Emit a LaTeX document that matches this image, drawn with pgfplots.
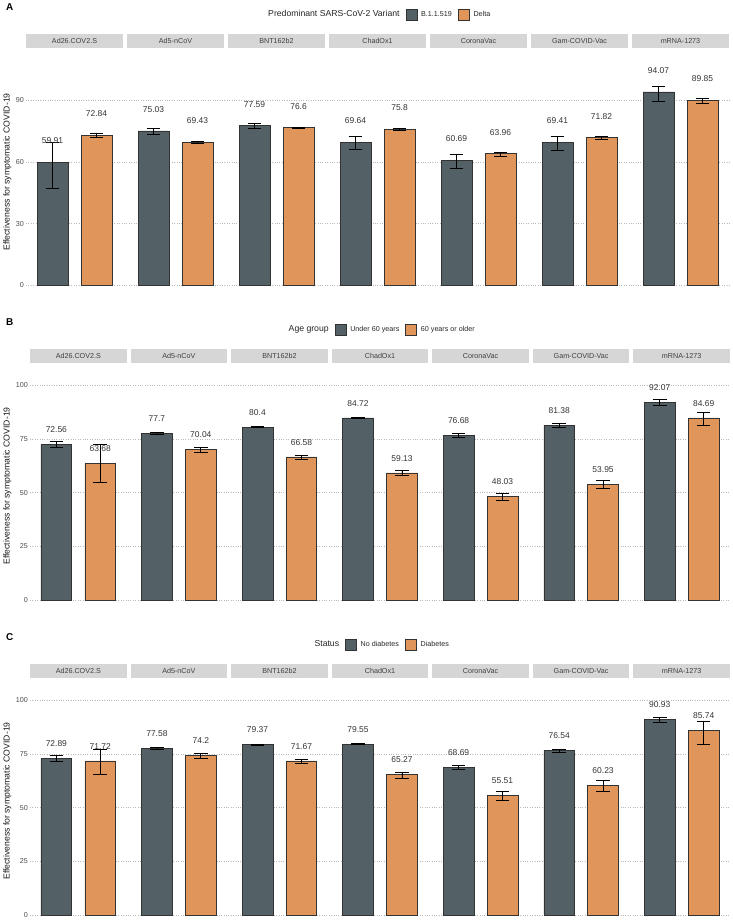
\documentclass[border=0pt]{standalone}
\usepackage{pgfplots}
\pgfplotsset{compat=1.18}
\usepackage{pgfplotstable}
\usepackage{fontspec}
\setmainfont{Liberation Sans}
\definecolor{darkbar}{RGB}{83,97,102}
\definecolor{orangebar}{RGB}{224,149,90}
\definecolor{stripgray}{RGB}{214,214,214}
\definecolor{gridgray}{RGB}{185,185,185}
\newcommand{\fsz}[1]{\fontsize{#1}{#1}\selectfont}

% Panel A: Predominant variant
\pgfplotstableread{
i v lo hi
0 59.91 47.0 69.4
1 75.03 73.5 76.2
2 77.59 76.4 78.6
3 69.64 66.3 72.3
4 60.69 56.9 63.7
5 69.41 65.5 72.6
6 94.07 89.3 96.6
}\Adark
\pgfplotstableread{
i v lo hi
0 72.84 71.7 74.1
1 69.43 68.9 69.8
2 76.6 76.2 76.9
3 75.8 75.3 76.2
4 63.96 62.9 64.5
5 71.82 70.9 72.5
6 89.85 88.4 90.8
}\Aorange
% Panel B: Age group
\pgfplotstableread{
i v lo hi
0 72.56 71.2 73.8
1 77.7 77.3 78.0
2 80.4 80.1 80.7
3 84.72 84.4 85.0
4 76.68 75.7 77.5
5 81.38 80.5 82.2
6 92.07 90.5 93.3
}\Bdark
\pgfplotstableread{
i v lo hi
0 63.68 54.6 72.4
1 70.04 68.7 71.2
2 66.58 65.6 67.4
3 59.13 57.8 60.3
4 48.03 46.4 49.6
5 53.95 51.8 55.7
6 84.69 81.1 87.4
}\Borange
% Panel C: Diabetes status
\pgfplotstableread{
i v lo hi
0 72.89 71.5 74.1
1 77.58 77.3 77.9
2 79.37 79.1 79.6
3 79.55 79.3 79.8
4 68.69 67.8 69.5
5 76.54 75.5 77.2
6 90.93 89.5 91.9
}\Cdark
\pgfplotstableread{
i v lo hi
0 71.72 65.4 77.2
1 74.2 73.0 75.0
2 71.67 70.4 72.4
3 65.27 63.6 66.5
4 55.51 53.3 57.4
5 60.23 57.4 62.5
6 85.74 79.4 90.1
}\Corange

\tikzset{striplab/.style={font=\fsz{7.2}, text=black!75, anchor=center, inner sep=0pt}}
\newcommand{\strips}[1]{%
 \fill[stripgray] (axis cs:0.4,#1) rectangle ([yshift=14bp]axis cs:2.6,#1);
 \fill[stripgray] (axis cs:2.69,#1) rectangle ([yshift=14bp]axis cs:4.89,#1);
 \fill[stripgray] (axis cs:4.98,#1) rectangle ([yshift=14bp]axis cs:7.18,#1);
 \fill[stripgray] (axis cs:7.27,#1) rectangle ([yshift=14bp]axis cs:9.47,#1);
 \fill[stripgray] (axis cs:9.56,#1) rectangle ([yshift=14bp]axis cs:11.76,#1);
 \fill[stripgray] (axis cs:11.85,#1) rectangle ([yshift=14bp]axis cs:14.05,#1);
 \fill[stripgray] (axis cs:14.14,#1) rectangle ([yshift=14bp]axis cs:16.34,#1);
 \node[striplab] at ([yshift=7bp]axis cs:1.5,#1) {Ad26.COV2.S};
 \node[striplab] at ([yshift=7bp]axis cs:3.79,#1) {Ad5-nCoV};
 \node[striplab] at ([yshift=7bp]axis cs:6.08,#1) {BNT162b2};
 \node[striplab] at ([yshift=7bp]axis cs:8.37,#1) {ChadOx1};
 \node[striplab] at ([yshift=7bp]axis cs:10.66,#1) {CoronaVac};
 \node[striplab] at ([yshift=7bp]axis cs:12.95,#1) {Gam-COVID-Vac};
 \node[striplab] at ([yshift=7bp]axis cs:15.24,#1) {mRNA-1273};
}

\pgfplotsset{
 facet/.style={
   scale only axis, anchor=south west,
   xmin=0.4, xmax=16.34, ymin=-3,
   axis line style={draw=none}, tick style={draw=none}, major tick length=0pt,
   xtick=\empty,
   yticklabel style={anchor=east, inner sep=0pt, xshift=-2bp, font=\fsz{7.2}, text=black!70},
   /pgf/number format/assume math mode=true,
   ymajorgrids, grid style={dotted, gridgray, line width=0.6bp},
   clip=false,
   point meta=explicit symbolic,
   nodes near coords,
   nodes near coords style={font=\fsz{8.5}, text=black!80, anchor=center},
   legend columns=-1,
   legend style={draw=none, fill=none, at={(0.5,1)}, anchor=center, yshift=33.5bp,
     font=\fsz{7.2}, text=black!85, inner sep=0pt, outer sep=0pt,
     nodes={inner sep=0.5bp},
     /tikz/every odd column/.append style={column sep=3.5bp},
     /tikz/every even column/.append style={column sep=5.5bp}},
   legend image code/.code={\draw[##1, draw=black!80, line width=0.6bp] (0bp,-5.5bp) rectangle (11bp,5.5bp);},
 },
 barbase/.style={ybar, bar width=0.7, bar shift=0pt, draw=black!80, line width=0.6bp, forget plot,
   error bars/.cd, y dir=both, y explicit,
   error bar style={black, line width=0.7bp},
   error mark options={rotate=90, black, line width=0.7bp, mark size=6.8bp}},
}
\newcommand{\dataplots}[2]{%
 \addplot[fill=darkbar, barbase] table[x expr=\thisrow{i}*2.29+1, y=v, meta=v,
   y error plus expr=\thisrow{hi}-\thisrow{v}, y error minus expr=\thisrow{v}-\thisrow{lo}] {#1};
 \addplot[fill=orangebar, barbase] table[x expr=\thisrow{i}*2.29+2, y=v, meta=v,
   y error plus expr=\thisrow{hi}-\thisrow{v}, y error minus expr=\thisrow{v}-\thisrow{lo}] {#2};
}

\begin{document}
\begin{tikzpicture}
\useasboundingbox (0,0) rectangle (733bp,-922bp);

% ---------- Panel A ----------
\node[anchor=base west, font=\fsz{10}\bfseries] at (2.5bp,-10.5bp) {A};
\node[rotate=90, font=\fsz{8.7}, text=black!90] at (7.5bp,-172bp) {Effectiveness for symptomatic COVID-19};
\begin{axis}[facet, at={(26bp,-291.4bp)}, width=703bp, height=243.4bp, ymax=115.4,
  ytick={0,30,60,90}, nodes near coords style={yshift=21.5bp}]
 \strips{115.4}
 \dataplots{\Adark}{\Aorange}
 \addlegendimage{empty legend}\addlegendentry{\fsz{8.7}Predominant SARS-CoV-2 Variant\hspace{3bp}}
 \addlegendimage{fill=darkbar}\addlegendentry{B.1.1.519}
 \addlegendimage{fill=orangebar}\addlegendentry{Delta}
\end{axis}

% ---------- Panel B ----------
\node[anchor=base west, font=\fsz{10}\bfseries] at (2.5bp,-325.5bp) {B};
\node[rotate=90, font=\fsz{8.7}, text=black!90] at (7.5bp,-486bp) {Effectiveness for symptomatic COVID-19};
\begin{axis}[facet, at={(30bp,-606.5bp)}, width=700bp, height=243.5bp, ymax=110.26,
  ytick={0,25,50,75,100}, nodes near coords style={yshift=14.8bp}]
 \strips{110.26}
 \dataplots{\Bdark}{\Borange}
 \addlegendimage{empty legend}\addlegendentry{\fsz{8.7}Age group\hspace{3bp}}
 \addlegendimage{fill=darkbar}\addlegendentry{Under 60 years}
 \addlegendimage{fill=orangebar}\addlegendentry{60 years or older}
\end{axis}

% ---------- Panel C ----------
\node[anchor=base west, font=\fsz{10}\bfseries] at (2.5bp,-640.5bp) {C};
\node[rotate=90, font=\fsz{8.7}, text=black!90] at (7.5bp,-801bp) {Effectiveness for symptomatic COVID-19};
\begin{axis}[facet, at={(30bp,-921.5bp)}, width=700bp, height=243.5bp, ymax=110.26,
  ytick={0,25,50,75,100}, nodes near coords style={yshift=14.8bp}]
 \strips{110.26}
 \dataplots{\Cdark}{\Corange}
 \addlegendimage{empty legend}\addlegendentry{\fsz{8.7}Status\hspace{3bp}}
 \addlegendimage{fill=darkbar}\addlegendentry{No diabetes}
 \addlegendimage{fill=orangebar}\addlegendentry{Diabetes}
\end{axis}
\end{tikzpicture}
\end{document}
